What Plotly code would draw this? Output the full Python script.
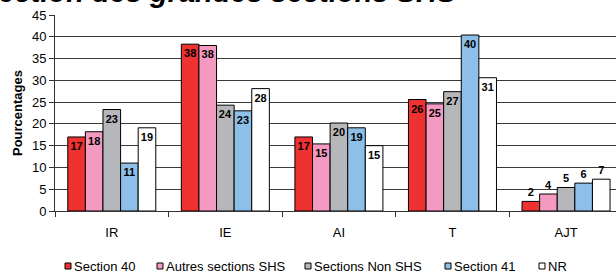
import plotly.graph_objects as go

categories = ["IR", "IE", "AI", "T", "AJT"]
series_names = ["Section 40", "Autres sections SHS", "Sections Non SHS", "Section 41", "NR"]
section40 = [17.0, 38.3, 17.0, 25.6, 2.2]
autres_shs = [18.2, 38.0, 15.4, 24.6, 3.9]
non_shs = [23.3, 24.3, 20.2, 27.4, 5.4]
section41 = [11.0, 23.0, 19.1, 40.4, 6.4]
nr = [19.1, 28.1, 15.0, 30.6, 7.3]
y_ticks = [0, 5, 10, 15, 20, 25, 30, 35, 40, 45]

colors = ["#EE3131", "#F49AC1", "#B6B7BA", "#8DBFE8", "#FFFFFF"]
all_values = [section40, autres_shs, non_shs, section41, nr]
FONT = "Liberation Sans, Arial, sans-serif"

# layout geometry (pixels)
W, H = 616, 273
ML, MR, MT, MB = 55, 0, 15, 62
PW, PH = W - ML - MR, H - MT - MB


def px_to_paper_x(px):
    return (px - ML) / PW


def px_to_paper_y(py):
    return (H - MB - py) / PH


fig = go.Figure()
positions = ["inside", "inside", "inside", "inside", "outside"]
for name, vals, col in zip(series_names, all_values, colors):
    fig.add_trace(go.Bar(
        x=categories, y=vals, name=name, showlegend=False,
        marker=dict(color=col, line=dict(color="#000000", width=1)),
        text=[str(int(round(v))) for v in vals],
        textposition=positions, insidetextanchor="end", textangle=0,
        textfont=dict(family=FONT, size=11, color="#000000", weight="bold"),
        cliponaxis=False,
    ))

# custom legend (squares + labels)
legend_square_left = [65, 157, 305, 445, 539]
legend_y = 266
for name, col, sx in zip(series_names, colors, legend_square_left):
    fig.add_shape(
        type="rect", xref="paper", yref="paper",
        x0=px_to_paper_x(sx), x1=px_to_paper_x(sx + 6),
        y0=px_to_paper_y(legend_y + 3), y1=px_to_paper_y(legend_y - 3),
        fillcolor=col, line=dict(color="#000000", width=1),
    )
    fig.add_annotation(
        text=name, xref="paper", yref="paper",
        x=px_to_paper_x(sx + 8), y=px_to_paper_y(legend_y),
        xanchor="left", yanchor="middle", showarrow=False,
        font=dict(family=FONT, size=13, color="#000000"),
        borderpad=0,
    )

fig.add_annotation(
    text="<b><i>Répartition des corps par section des grandes sections SHS</i></b>",
    xref="paper", yref="paper", x=px_to_paper_x(459), y=px_to_paper_y(10),
    xanchor="right", yanchor="bottom", showarrow=False,
    font=dict(family=FONT, size=29, color="#000000"),
)

fig.update_layout(
    width=W, height=H,
    margin=dict(l=ML, r=MR, t=MT, b=MB, autoexpand=False),
    paper_bgcolor="white", plot_bgcolor="white",
    barmode="group", bargap=0.225, bargroupgap=0,
    font=dict(family=FONT, size=13, color="#000000"),
    uniformtext=dict(minsize=11, mode="show"),
    showlegend=False,
)
fig.update_xaxes(
    type="category", range=[-0.5, 4.44], automargin=False,
    showline=True, linecolor="#333333", linewidth=1,
    ticks="outside", tickson="boundaries", ticklen=5, tickcolor="#333333",
    ticklabelstandoff=9, showgrid=False,
    tickfont=dict(family=FONT, size=13),
)
fig.update_yaxes(
    range=[0, 45], tickvals=y_ticks, automargin=False,
    showline=True, linecolor="#333333", linewidth=1,
    ticks="outside", ticklen=5, tickcolor="#333333",
    showgrid=True, gridcolor="#3a3a3a", gridwidth=1, zeroline=False,
    tickfont=dict(family=FONT, size=13),
    title=dict(text="<b>Pourcentages</b>", font=dict(family=FONT, size=13), standoff=6),
)

fig.write_html(
    "out.html",
    config={"displayModeBar": False},
    post_script="document.body.style.margin='0px';document.body.style.overflow='hidden';",
)
